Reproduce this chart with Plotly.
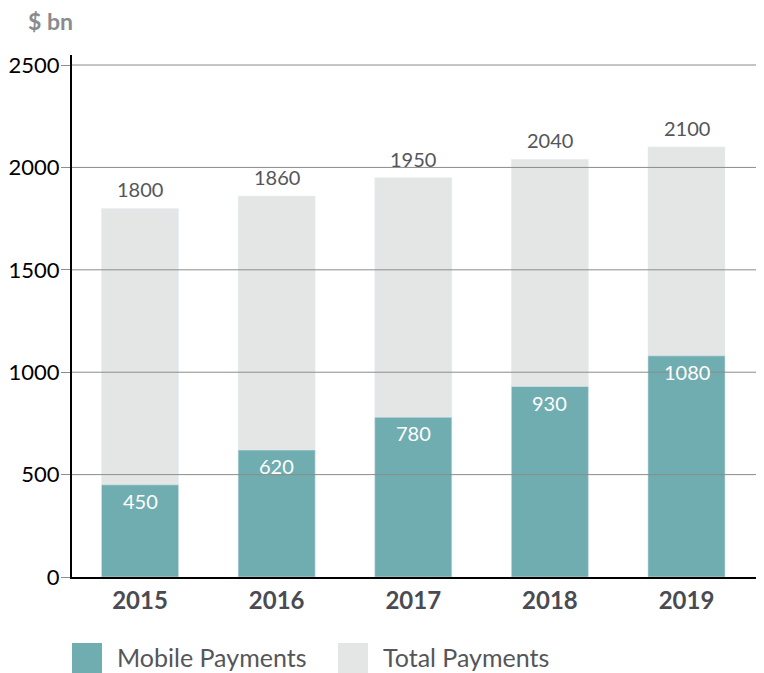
import plotly.graph_objects as go

years = ["2015", "2016", "2017", "2018", "2019"]
mobile = [450, 620, 780, 930, 1080]
total = [1800, 1860, 1950, 2040, 2100]
y_ticks = [0, 500, 1000, 1500, 2000, 2500]
series_names = ["Mobile Payments", "Total Payments"]
unit_label = "$ bn"

TEAL = "#70adb0"
GREY = "#e4e6e5"
FONT = "Lato, 'Open Sans', sans-serif"

# page body has an 8px margin; figure is sized/offset to compensate
OFF = 8
W, H = 764 - OFF, 673 - OFF
ML, MR, MT, MB = 72 - OFF, 4, 55 - OFF, 96
PW, PH = W - ML - MR, H - MT - MB


def px_x(x):
    return (x - OFF - ML) / PW


def px_y(y):
    return (H - MB - (y - OFF)) / PH


fig = go.Figure()
fig.add_trace(go.Bar(x=years, y=total, name=series_names[1], marker_color=GREY,
                     width=0.564, showlegend=False, hoverinfo="x+y"))
fig.add_trace(go.Bar(x=years, y=mobile, name=series_names[0], marker_color=TEAL,
                     width=0.564, showlegend=False, hoverinfo="x+y"))

annotations = []
for i, (t, m) in enumerate(zip(total, mobile)):
    annotations.append(dict(x=i, y=t, xref="x", yref="y", text=str(t), showarrow=False,
                            yanchor="middle", yshift=19,
                            font=dict(family=FONT, size=20, color="#55565a")))
    annotations.append(dict(x=i, y=m, xref="x", yref="y", text=str(m), showarrow=False,
                            yanchor="middle", yshift=-16,
                            font=dict(family=FONT, size=20, color="white")))

annotations.append(dict(x=px_x(27), y=px_y(21), xref="paper", yref="paper", text="<b>" + unit_label + "</b>",
                        showarrow=False, xanchor="left", yanchor="middle", borderpad=0,
                        font=dict(family=FONT, size=23, color="#8a8b8f")))

shapes = []
for v in y_ticks[1:]:
    shapes.append(dict(type="line", xref="paper", yref="y", x0=0, x1=1, y0=v, y1=v,
                       line=dict(color="#8c8c8c", width=1), layer="above"))

# legend
legend_items = [(series_names[0], TEAL, 72, 116), (series_names[1], GREY, 338, 382)]
for name, col, sx, tx in legend_items:
    shapes.append(dict(type="rect", xref="paper", yref="paper",
                       x0=px_x(sx), x1=px_x(sx + 30), y0=px_y(643), y1=px_y(674),
                       fillcolor=col, line=dict(width=0), layer="above"))
    annotations.append(dict(x=px_x(tx), y=px_y(673), xref="paper", yref="paper", text=name,
                            showarrow=False, xanchor="left", yanchor="bottom", borderpad=0,
                            font=dict(family=FONT, size=25, color="#55565a")))

fig.update_layout(
    width=W, height=H,
    margin=dict(l=ML, r=MR, t=MT, b=MB, pad=0, autoexpand=False),
    barmode="overlay",
    plot_bgcolor="white", paper_bgcolor="white",
    font=dict(family=FONT),
    annotations=annotations,
    shapes=shapes,
    xaxis=dict(type="category", range=[-0.498, 4.538], showgrid=False, automargin=False,
               showline=True, linecolor="black", linewidth=2,
               ticks="", tickfont=dict(family=FONT, size=24, color="#4a4b52", weight="bold"),
               ticklabelstandoff=1),
    yaxis=dict(range=[0, 2549], tickvals=y_ticks, showgrid=False, zeroline=False, automargin=False,
               showline=True, linecolor="black", linewidth=2,
               ticks="outside", ticklen=9, tickcolor="#8c8c8c", tickwidth=1,
               ticklabelstandoff=-3,
               tickfont=dict(family=FONT, size=22, color="black")),
)

fig.write_html("out.html")
